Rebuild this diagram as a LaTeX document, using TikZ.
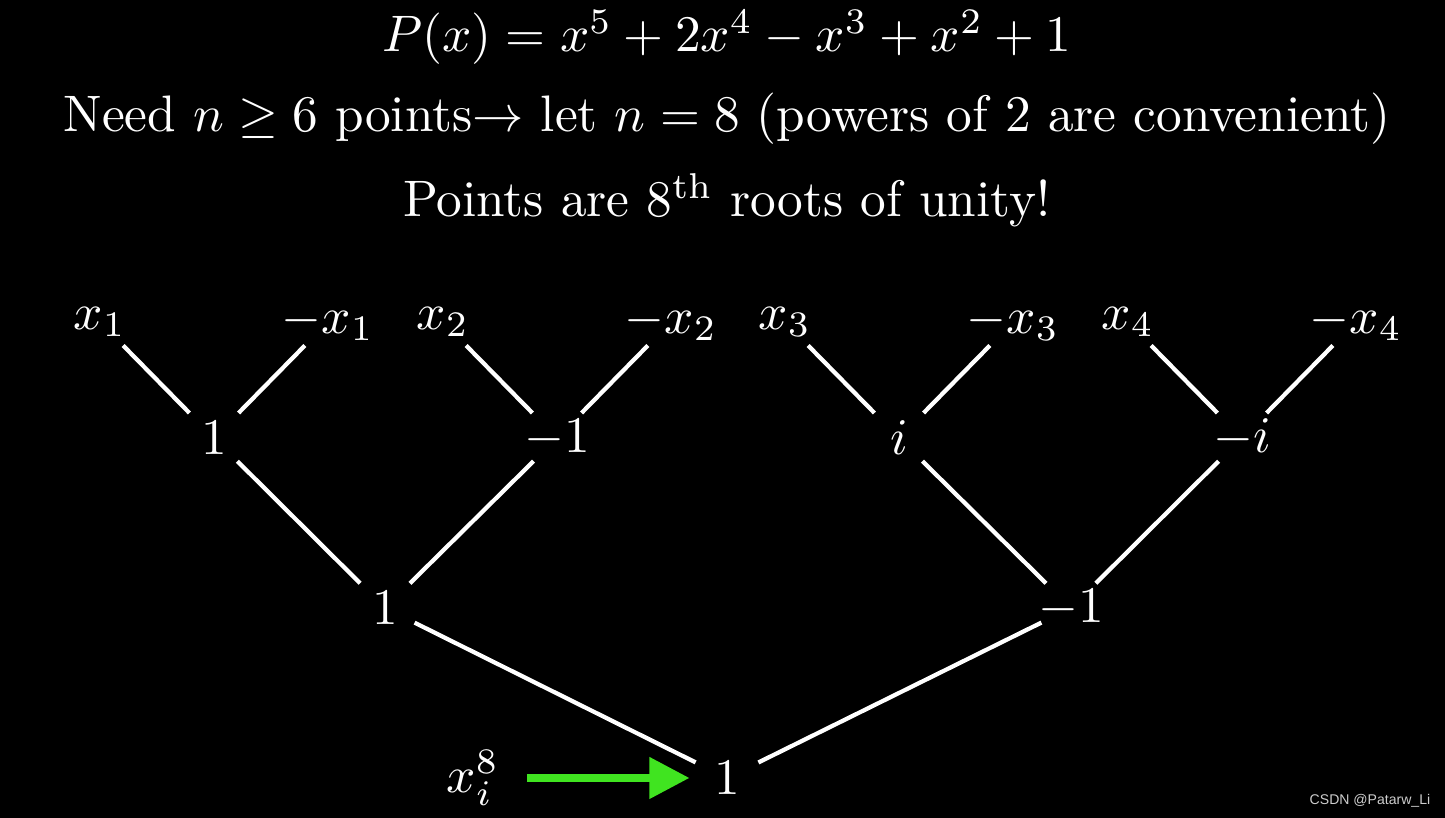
\documentclass[tikz,border=0pt]{standalone}
\usepackage{fontspec}
\newfontfamily\wmfont{Liberation Sans}
\usetikzlibrary{arrows.meta}
\definecolor{arrowgreen}{RGB}{64,228,32}
\definecolor{markgray}{RGB}{205,205,205}
\newcommand{\magtext}[1]{\scalebox{1.46}{#1}}

\begin{document}
\begin{tikzpicture}[
    txt/.style={
        text=white,
        anchor=base
    },
    val/.style={
        text=white,
        inner sep=0pt
    },
    branch/.style={
        draw=white,
        line width=1.2pt,
        shorten <=0.33cm,
        shorten >=0.35cm
    },
    greenarrow/.style={
        -{Triangle[length=0.4cm,width=0.4cm]},
        draw=arrowgreen,
        line width=2.1pt,
        shorten <=0.27cm,
        shorten >=0.24cm
    }
]

\fill[black] (0,0) rectangle (14.45,8.18);
\useasboundingbox (0,0) rectangle (14.45,8.18);

% Header
\node[txt] (poly) at (7.27, 7.66) {\magtext{$P(x) = x^5 + 2x^4 - x^3 + x^2 + 1$}};
\node[txt] (need) at (7.27, 6.86) {\magtext{Need $n \geq 6$ points$\rightarrow$ let $n = 8$ (powers of 2 are convenient)}};
\node[txt] (roots) at (7.27, 6.01) {\magtext{Points are $8^{\mathrm{th}}$ roots of unity!}};

% Top row
\node[val] (xa) at (1.00, 4.96) {\magtext{$x_1$}};
\node[val] (nxa) at (3.28, 4.96) {\magtext{$-x_1$}};
\node[val] (xb) at (4.43, 4.96) {\magtext{$x_2$}};
\node[val] (nxb) at (6.71, 4.96) {\magtext{$-x_2$}};
\node[val] (xc) at (7.85, 4.96) {\magtext{$x_3$}};
\node[val] (nxc) at (10.13, 4.96) {\magtext{$-x_3$}};
\node[val] (xd) at (11.28, 4.96) {\magtext{$x_4$}};
\node[val] (nxd) at (13.56, 4.96) {\magtext{$-x_4$}};

% Squares
\node[val] (sqa) at (2.14, 3.80) {\magtext{$1$}};
\node[val] (sqb) at (5.57, 3.80) {\magtext{$-1$}};
\node[val] (sqc) at (8.99, 3.80) {\magtext{$i$}};
\node[val] (sqd) at (12.42, 3.80) {\magtext{$-i$}};

% Fourth powers
\node[val] (qa) at (3.85, 2.10) {\magtext{$1$}};
\node[val] (qb) at (10.71, 2.10) {\magtext{$-1$}};

% Eighth power
\node[val] (root) at (7.27, 0.40) {\magtext{$1$}};
\node[val] (xi) at (4.73, 0.40) {\magtext{$x_i^8$}};

% Branches
\draw[branch] (xa.center) -- (sqa.center);
\draw[branch] (nxa.center) -- (sqa.center);
\draw[branch] (xb.center) -- (sqb.center);
\draw[branch] (nxb.center) -- (sqb.center);
\draw[branch] (xc.center) -- (sqc.center);
\draw[branch] (nxc.center) -- (sqc.center);
\draw[branch] (xd.center) -- (sqd.center);
\draw[branch] (nxd.center) -- (sqd.center);
\draw[branch] (sqa.center) -- (qa.center);
\draw[branch] (sqb.center) -- (qa.center);
\draw[branch] (sqc.center) -- (qb.center);
\draw[branch] (sqd.center) -- (qb.center);
\draw[branch] (qa.center) -- (root.center);
\draw[branch] (qb.center) -- (root.center);

% Arrow
\draw[greenarrow] (xi) -- (root);

% Watermark
\node[font=\wmfont\fontsize{4}{5}\selectfont, text=markgray] (mark) at (13.70, 0.17) {CSDN @Patarw\_Li};

\end{tikzpicture}
\end{document}
